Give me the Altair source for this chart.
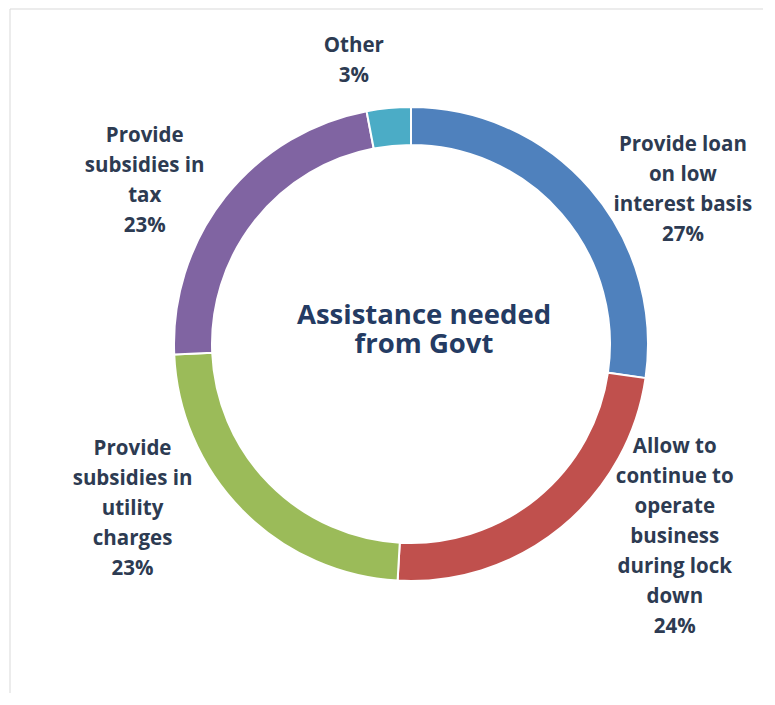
import altair as alt
import pandas as pd

categories = [
    "Provide loan on low interest basis",
    "Allow to continue to operate business during lock down",
    "Provide subsidies in utility charges",
    "Provide subsidies in tax",
    "Other",
]
values = [27.3, 23.6, 23.4, 22.7, 3.0]
pct_labels = ["27%", "24%", "23%", "23%", "3%"]
label_text = [
    "Provide loan\non low\ninterest basis\n27%",
    "Allow to\ncontinue to\noperate\nbusiness\nduring lock\ndown\n24%",
    "Provide\nsubsidies in\nutility\ncharges\n23%",
    "Provide\nsubsidies in\ntax\n23%",
    "Other\n3%",
]
colors = ["#4F81BD", "#C0504D", "#9BBB59", "#8064A2", "#4BACC6"]
center_title = "Assistance needed\nfrom Govt"

W, H = 755, 685
CX, CY = 403, 336
R_OUT, R_IN = 237, 199
LABEL_R = 300
LINE_H = 30
# per-label nudges (dx, dy) of the text block centre from the radial anchor
nudges = [(45, 42), (74, -39), (-65, -46), (-31, 23), (-29, 16)]

total = sum(values)
df = pd.DataFrame({
    "idx": list(range(len(categories))),
    "category": categories,
    "value": values,
    "label": label_text,
})

base = alt.Chart(df).transform_window(
    end="sum(value)", sort=[alt.SortField("idx")], frame=[None, 0]
).transform_calculate(
    start="datum.end - datum.value",
    mid="datum.end - datum.value / 2",
)

theta_scale = alt.Scale(domain=[0, total])

arcs = base.mark_arc(
    innerRadius=R_IN, outerRadius=R_OUT, stroke="white", strokeWidth=2
).encode(
    theta=alt.Theta("start:Q", scale=theta_scale),
    theta2="end:Q",
    color=alt.Color("category:N", scale=alt.Scale(domain=categories, range=colors), legend=None),
    x=alt.value(CX),
    y=alt.value(CY),
)

label_layers = []
for i, (ddx, ddy) in enumerate(nudges):
    n_lines = label_text[i].count("\n") + 1
    label_layers.append(
        base.transform_filter(alt.datum.idx == i).mark_text(
            font="Open Sans", fontWeight="bold", fontSize=20.5, color="#2D3B52",
            lineBreak="\n", lineHeight=LINE_H, align="center", baseline="middle",
            dx=ddx, dy=ddy - (n_lines - 1) / 2 * LINE_H,
        ).encode(
            theta=alt.Theta("mid:Q", scale=theta_scale),
            radius=alt.value(LABEL_R),
            text="label:N",
            x=alt.value(CX),
            y=alt.value(CY),
        )
    )

title = alt.Chart(pd.DataFrame({"t": [center_title]})).mark_text(
    font="Open Sans", fontWeight="bold", fontSize=27.5, color="#243B63",
    lineBreak="\n", lineHeight=29, align="center", baseline="middle",
).encode(text="t:N", x=alt.value(CX + 13), y=alt.value(CY - 28))

frame_top = alt.Chart(pd.DataFrame({"a": [0]})).mark_rule(color="#D9D9D9", strokeWidth=1).encode(
    x=alt.value(2), x2=alt.value(W), y=alt.value(1)
)
frame_left = alt.Chart(pd.DataFrame({"a": [0]})).mark_rule(color="#D9D9D9", strokeWidth=1).encode(
    x=alt.value(2), y=alt.value(1), y2=alt.value(H)
)

chart = alt.layer(frame_top, frame_left, arcs, *label_layers, title).properties(
    width=W, height=H, padding=0,
    autosize=alt.AutoSizeParams(type="fit", contains="padding"),
    background="white",
).configure_view(stroke=None)

chart.save("out.html", embed_options={"renderer": "svg", "actions": False})
